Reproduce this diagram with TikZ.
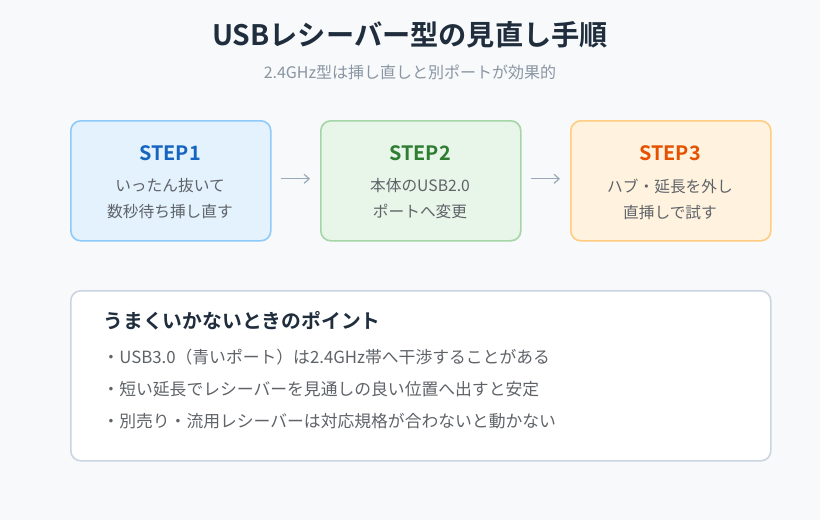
\documentclass[tikz,border=0pt]{standalone}
\usepackage{fontspec}
\setmainfont{Noto Sans CJK JP}[BoldFont={Noto Sans CJK JP Bold}]
\usetikzlibrary{arrows.meta}
\definecolor{bg}{HTML}{F7F9FB}
\definecolor{titlec}{HTML}{1F2D3D}
\definecolor{subc}{HTML}{8A96A3}
\definecolor{bodyc}{HTML}{5F6368}
\definecolor{arrc}{HTML}{9AA8B8}
\definecolor{fA}{HTML}{E3F2FD}\definecolor{dA}{HTML}{90CAF9}\definecolor{tA}{HTML}{1565C0}
\definecolor{fB}{HTML}{E8F5E9}\definecolor{dB}{HTML}{A5D6A7}\definecolor{tB}{HTML}{2E7D32}
\definecolor{fC}{HTML}{FFF3E0}\definecolor{dC}{HTML}{FFCC80}\definecolor{tC}{HTML}{E65100}
\definecolor{tipd}{HTML}{CBD5E1}
\begin{document}
\begin{tikzpicture}[x=1pt,y=-1pt,
  stepbox/.style={draw, line width=1.6pt, rounded corners=10pt, minimum width=200pt, minimum height=120pt, anchor=north west, inner sep=0pt},
  steptitle/.style={font=\bfseries\fontsize{19.8}{22}\selectfont},
  stepbody/.style={font=\fontsize{15.7}{26}\selectfont, text=bodyc, align=center},
  flow/.style={draw=arrc, line width=1.2pt, -{Straight Barb[length=5pt,width=9pt]}},
  bullet/.style={font=\fontsize{16.8}{18}\selectfont, text=bodyc, anchor=west}]
\fill[bg] (0,0) rectangle (820,520);
\useasboundingbox (0,0) rectangle (820,520);
\node[font=\bfseries\fontsize{28.2}{32}\selectfont, text=titlec] (title) at (410,35) {USBレシーバー型の見直し手順};
\node[font=\fontsize{16}{18}\selectfont, text=subc] (sub) at (410,72) {2.4GHz型は挿し直しと別ポートが効果的};
\node[stepbox, fill=fA, draw=dA] (s1) at (70,120) {};
\node[stepbox, fill=fB, draw=dB] (s2) at (320,120) {};
\node[stepbox, fill=fC, draw=dC] (s3) at (570,120) {};
\node[steptitle, text=tA] (s1t) at (170,153) {STEP1};
\node[steptitle, text=tB] (s2t) at (420,153) {STEP2};
\node[steptitle, text=tC] (s3t) at (670,153) {STEP3};
\node[stepbody] (s1b) at (170,199) {いったん抜いて\\数秒待ち挿し直す};
\node[stepbody] (s2b) at (420,199) {本体のUSB2.0\\ポートへ変更};
\node[stepbody] (s3b) at (670,199) {ハブ・延長を外し\\直挿しで試す};
\draw[flow] ([xshift=9pt,yshift=2pt]s1.east) -- ([xshift=-10pt,yshift=2pt]s2.west);
\draw[flow] ([xshift=9pt,yshift=2pt]s2.east) -- ([xshift=-10pt,yshift=2pt]s3.west);
\node[draw=tipd, line width=1.6pt, fill=white, rounded corners=10pt, minimum width=700pt, minimum height=170pt, anchor=north west] (tips) at (70,290) {};
\node[font=\bfseries\fontsize{19.8}{22}\selectfont, text=titlec, anchor=west] (tiph) at (100,321) {うまくいかないときのポイント};
\node[bullet] (b1) at (99,357) {・USB3.0（青いポート）は2.4GHz帯へ干渉することがある};
\node[bullet] (b2) at (99,389) {・短い延長でレシーバーを見通しの良い位置へ出すと安定};
\node[bullet] (b3) at (99,421) {・別売り・流用レシーバーは対応規格が合わないと動かない};
\end{tikzpicture}
\end{document}
